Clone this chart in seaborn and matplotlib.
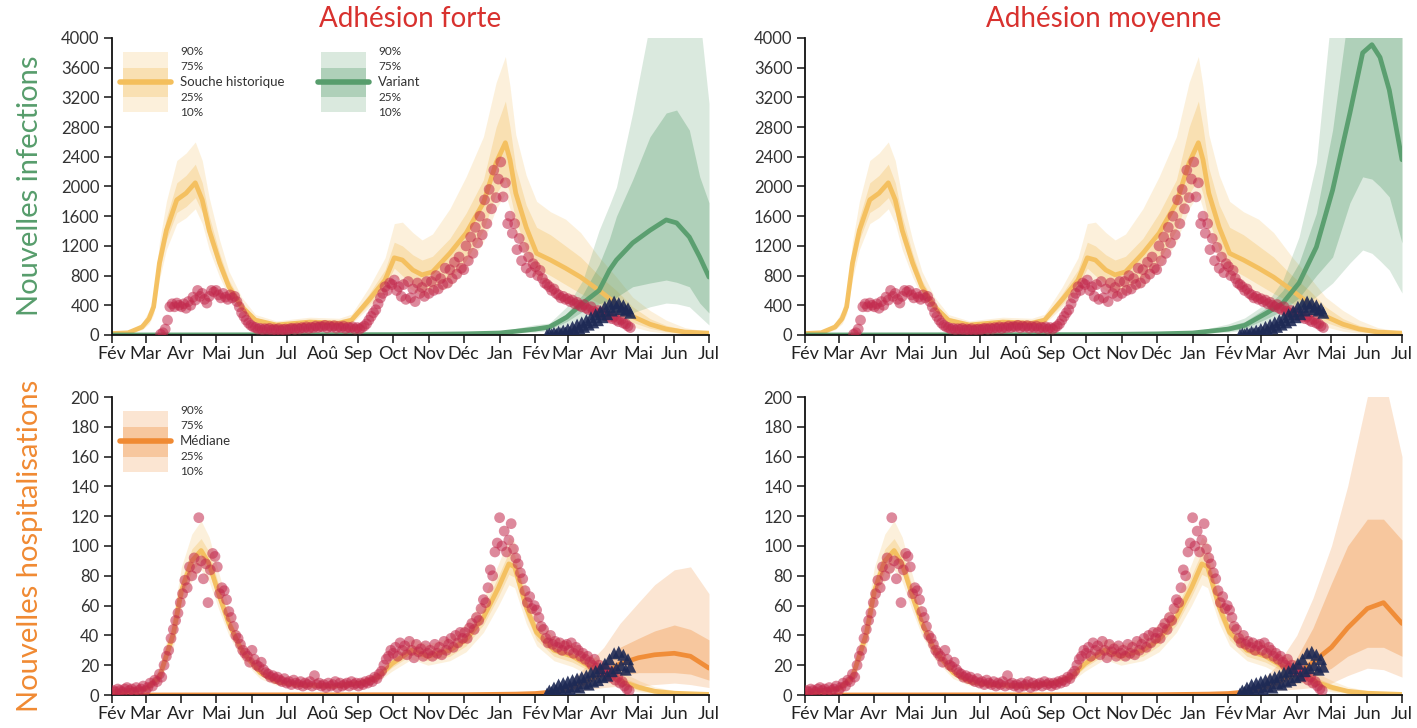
import numpy as np
import pandas as pd
import matplotlib
matplotlib.use('Agg')
import matplotlib.pyplot as plt
import seaborn as sns
from matplotlib.patches import Rectangle
from matplotlib.lines import Line2D

sns.set_style('ticks')
plt.rcParams['font.family'] = ['Lato', 'DejaVu Sans']

# ---------------- DATA ----------------
month_labels = ['Fév', 'Mar', 'Avr', 'Mai', 'Jun', 'Jul', 'Aoû', 'Sep', 'Oct', 'Nov', 'Déc',
                'Jan', 'Fév', 'Mar', 'Avr', 'Mai', 'Jun', 'Jul']
titles = ['Adhésion forte', 'Adhésion moyenne']

# Historical strain - infections (shared by both scenarios)
hist_inf_dates = ['2020-02-01', '2020-02-15', '2020-02-27', '2020-03-04', '2020-03-08', '2020-03-13',
                  '2020-03-19', '2020-03-28', '2020-04-05', '2020-04-13', '2020-04-19', '2020-04-25',
                  '2020-05-04', '2020-05-12', '2020-05-23', '2020-06-04', '2020-06-22', '2020-07-21',
                  '2020-08-15', '2020-08-26', '2020-09-10', '2020-09-24', '2020-10-02', '2020-10-09',
                  '2020-10-18', '2020-10-26', '2020-11-04', '2020-11-19', '2020-12-03', '2020-12-18',
                  '2020-12-29', '2021-01-06', '2021-01-10', '2021-01-15', '2021-01-24', '2021-02-02',
                  '2021-02-14', '2021-02-27', '2021-03-12', '2021-03-28', '2021-04-12', '2021-04-26',
                  '2021-05-11', '2021-05-25', '2021-06-10', '2021-07-01']
hist_inf_q10 = [10, 15, 70, 150, 280, 750, 1150, 1500, 1580, 1700, 1500, 1150, 780, 520, 300, 150, 100, 130,
                115, 150, 370, 580, 800, 700, 600, 520, 560, 650, 880, 1250, 1700, 1900, 1700, 1350, 1000, 780,
                680, 560, 450, 330, 200, 110, 50, 25, 10, 5]
hist_inf_q25 = [15, 22, 85, 180, 320, 850, 1280, 1650, 1730, 1850, 1650, 1280, 870, 580, 340, 175, 115, 150,
                135, 170, 410, 650, 900, 800, 690, 600, 640, 760, 1000, 1410, 1900, 2100, 1900, 1550, 1150, 900,
                800, 680, 560, 430, 280, 170, 90, 45, 20, 10]
hist_inf_med = [20, 30, 108, 220, 380, 970, 1410, 1820, 1910, 2050, 1820, 1410, 970, 650, 380, 200, 135, 175,
                160, 200, 470, 740, 1040, 1010, 875, 810, 850, 1100, 1370, 1780, 2320, 2590, 2360, 1910, 1450, 1100,
                1010, 900, 780, 600, 420, 250, 145, 80, 40, 25]
hist_inf_q75 = [28, 40, 130, 270, 450, 1100, 1580, 2050, 2150, 2300, 2050, 1600, 1100, 740, 440, 235, 160, 205,
                190, 240, 550, 880, 1250, 1200, 1080, 1010, 1060, 1300, 1640, 2090, 2800, 3150, 2800, 2250, 1750, 1450,
                1350, 1200, 1050, 800, 600, 380, 220, 130, 70, 35]
hist_inf_q90 = [35, 50, 160, 330, 540, 1250, 1800, 2350, 2450, 2600, 2350, 1850, 1280, 860, 510, 275, 190, 240,
                225, 280, 640, 1040, 1500, 1520, 1380, 1280, 1360, 1700, 2130, 2670, 3400, 3750, 3350, 2700, 2150, 1800,
                1660, 1560, 1380, 1050, 780, 510, 330, 200, 100, 45]

# Variant - infections
var_inf_dates_forte = ['2020-02-01', '2020-10-01', '2020-12-01', '2021-01-01', '2021-01-15', '2021-02-01',
                       '2021-02-13', '2021-02-28', '2021-03-14', '2021-03-28', '2021-04-06', '2021-04-12',
                       '2021-04-26', '2021-05-11', '2021-05-25', '2021-06-03', '2021-06-14', '2021-06-23',
                       '2021-07-01']
var_inf_q10_forte = [0, 3, 8, 15, 25, 40, 60, 130, 220, 260, 230, 200, 300, 380, 430, 420, 380, 250, 135]
var_inf_q25_forte = [0, 4, 10, 20, 35, 55, 80, 180, 320, 420, 470, 510, 650, 700, 740, 710, 650, 430, 296]
var_inf_med_forte = [0, 5, 15, 27, 50, 80, 108, 240, 430, 600, 875, 1010, 1240, 1410, 1550, 1510, 1320, 1050, 780]
var_inf_q75_forte = [0, 6, 20, 35, 70, 105, 130, 290, 550, 950, 1300, 1600, 2090, 2670, 2990, 3030, 2760, 2130, 1780]
var_inf_q90_forte = [0, 8, 25, 45, 90, 140, 160, 380, 740, 1410, 1750, 1990, 2990, 4200, 4500, 4500, 4500, 4300, 3120]

var_inf_dates_moy = ['2020-02-01', '2020-10-01', '2020-12-01', '2021-01-01', '2021-01-15', '2021-02-01',
                     '2021-02-15', '2021-03-06', '2021-03-20', '2021-04-03', '2021-04-18', '2021-05-02',
                     '2021-05-17', '2021-05-28', '2021-06-05', '2021-06-12', '2021-06-20', '2021-07-01']
var_inf_q10_moy = [0, 3, 8, 15, 25, 40, 65, 170, 250, 350, 520, 700, 970, 1145, 1100, 1000, 875, 565]
var_inf_q25_moy = [0, 4, 10, 20, 35, 55, 90, 220, 330, 500, 800, 1050, 1780, 2130, 2100, 2000, 1860, 1240]
var_inf_med_moy = [0, 5, 15, 27, 50, 80, 130, 296, 430, 700, 1185, 1950, 2990, 3800, 3910, 3740, 3300, 2360]
var_inf_q75_moy = [0, 6, 20, 35, 70, 120, 180, 370, 600, 970, 1640, 2760, 4500, 4500, 4500, 4500, 4500, 4500]
var_inf_q90_moy = [0, 8, 25, 45, 90, 150, 230, 430, 740, 1320, 2320, 4500, 4500, 4500, 4500, 4500, 4500, 4500]

# Historical strain - hospitalisations (shared)
hist_hosp_dates = ['2020-02-01', '2020-03-01', '2020-03-13', '2020-03-25', '2020-04-01', '2020-04-10',
                   '2020-04-18', '2020-04-25', '2020-05-04', '2020-05-12', '2020-05-23', '2020-06-08',
                   '2020-06-22', '2020-07-10', '2020-08-10', '2020-09-04', '2020-09-18', '2020-09-30',
                   '2020-10-17', '2020-10-31', '2020-11-19', '2020-12-03', '2020-12-18', '2020-12-31',
                   '2021-01-09', '2021-01-14', '2021-01-24', '2021-02-02', '2021-02-17', '2021-03-05',
                   '2021-03-20', '2021-04-03', '2021-04-20', '2021-05-02', '2021-05-15', '2021-06-01',
                   '2021-07-01']
hist_hosp_q10 = [1, 2.5, 8, 32, 58, 77, 84, 76, 56, 40, 24, 11, 6.5, 5, 4.5, 6, 9, 16, 24, 20, 23, 29, 42, 60,
                 74, 72, 48, 33, 23, 19, 13, 9, 4, 2, 1, 0.4, 0.1]
hist_hosp_q25 = [1.5, 3, 10, 36, 64, 83, 90, 82, 61, 44, 27, 13, 7.5, 6, 5.2, 7, 10.5, 18.5, 27, 23, 26, 33, 47,
                 66, 81, 79, 53, 37, 26, 22, 16, 12, 6, 3, 1.5, 0.8, 0.2]
hist_hosp_med = [2, 4, 12, 41, 70, 90, 97, 88, 66, 48, 30, 15, 9, 7, 6, 8, 12, 21, 30, 26, 30, 37, 52, 72, 88,
                 86, 59, 42, 30, 26, 19, 15, 8, 5, 2.5, 1.2, 0.4]
hist_hosp_q75 = [2.5, 5, 15, 47, 77, 98, 105, 96, 72, 53, 33, 17, 10.5, 8, 7, 9.5, 14, 24, 34, 30, 34, 42, 58,
                 80, 96, 94, 66, 47, 34, 30, 23, 18, 11, 7, 4, 2, 0.7]
hist_hosp_q90 = [3, 6, 18, 54, 86, 108, 117, 106, 80, 59, 37, 20, 12, 9.5, 8, 11, 16, 27, 38, 34, 39, 48, 65,
                 88, 106, 103, 73, 53, 39, 35, 27, 22, 14, 9.5, 5.5, 3, 1]

# Variant - hospitalisations
var_hosp_dates = ['2020-02-01', '2020-12-01', '2021-01-15', '2021-02-01', '2021-02-15', '2021-03-01',
                  '2021-03-15', '2021-04-01', '2021-04-15', '2021-05-01', '2021-05-15', '2021-06-01',
                  '2021-06-15', '2021-07-01']
var_hosp_q10_forte = [0, 0.05, 0.2, 0.4, 0.8, 1.5, 3, 5, 6, 6, 7, 8, 7, 5]
var_hosp_q25_forte = [0, 0.1, 0.4, 0.7, 1.3, 2.5, 5, 9, 13, 15, 15, 15, 14, 10]
var_hosp_med_forte = [0, 0.2, 0.6, 1, 2, 4, 8, 14, 21, 25, 27, 28, 26, 18]
var_hosp_q75_forte = [0, 0.3, 0.8, 1.4, 3, 6, 12, 22, 32, 38, 43, 47, 44, 37]
var_hosp_q90_forte = [0, 0.4, 1, 2, 4, 8, 18, 32, 48, 62, 74, 84, 86, 68]

var_hosp_q10_moy = [0, 0.05, 0.2, 0.4, 0.8, 1.5, 3, 4, 5, 8, 13, 18, 17, 12]
var_hosp_q25_moy = [0, 0.1, 0.4, 0.7, 1.3, 2.5, 5, 8, 12, 18, 26, 32, 32, 26]
var_hosp_med_moy = [0, 0.2, 0.6, 1, 2, 4, 8, 14, 22, 32, 45, 58, 62, 48]
var_hosp_q75_moy = [0, 0.3, 0.8, 1.4, 3, 6, 13, 25, 45, 75, 100, 118, 118, 104]
var_hosp_q90_moy = [0, 0.4, 1, 2, 4, 9, 20, 40, 65, 100, 140, 200, 215, 160]

# Observed new infections (every 2 days)
obs_inf_start = '2020-03-14'
obs_inf = [10, 30, 80, 200, 380, 420, 380, 430, 400,
           380, 420, 360, 450, 400, 510, 470, 600, 520, 560, 480, 430, 520, 600, 580,
           600, 540, 500, 560, 510, 480, 540, 500, 520, 450, 380, 300, 250, 200, 160, 130,
           110, 100, 80, 90, 70, 85, 75, 90, 65, 80, 70, 85, 60, 75, 80,
           70, 85, 90, 75, 95, 80, 100, 90, 110, 85, 105, 95, 120, 100, 115,
           110, 130, 95, 120, 105, 125, 90, 115, 100, 120, 85, 105, 95, 110, 80, 100,
           80, 100, 120, 150, 200, 250, 300, 340, 420, 500, 560, 650, 600, 700, 680,
           740, 600, 650, 520, 680, 480, 720, 500, 620, 450, 700, 560, 640, 520, 720,
           560, 720, 600, 800, 620, 760, 680, 900, 700, 880, 760, 980, 820, 1050, 900,
           880, 1200, 1000, 1320, 1100, 1450, 1240, 1600, 1350, 1820, 1500, 1960, 1700, 2220, 1850, 2100,
           2330, 1860, 2050, 1500, 1600, 1370, 1500, 1150, 1300, 1000, 1180, 900, 1050, 840, 960,
           920, 800, 870, 760, 700, 680, 650, 600, 620, 560, 540, 500, 520, 480,
           490, 450, 470, 420, 440, 400, 380, 410, 360, 340, 380, 320, 300, 330, 290, 300,
           260, 280, 240, 220, 250, 200, 180, 210, 160, 150, 120, 100]
# Observed variant infections (every 2 days)
obs_var_start = '2021-02-11'
obs_var_inf = [5, 20, 10, 30, 15, 45, 25, 60, 35,
               80, 40, 110, 60, 140, 90, 170, 110, 200, 140, 240, 170, 280, 200, 320, 240,
               380, 280, 420, 330, 450, 380, 430, 350, 400, 330, 360, 300]
# Observed hospitalisations (every 2 days)
obs_hosp_start = '2020-02-02'
obs_hosp = [3, 2, 4, 3, 2, 4, 5, 3, 4, 2, 5, 3, 4, 6,
            3, 5, 8, 6, 10, 9, 14, 12, 20, 26, 30, 38, 44, 50, 55, 62,
            68, 77, 72, 86, 80, 92, 85, 119, 90, 78, 88, 62, 84, 95, 93,
            86, 68, 72, 70, 64, 56, 52, 46, 40, 38, 34, 30, 28, 26, 22,
            30, 24, 20, 19, 22, 17, 15, 14, 12, 13, 11, 12, 10, 9, 11,
            8, 9, 7, 10, 8, 7, 9, 6, 8, 7, 9, 6, 13, 7, 8, 6,
            7, 5, 8, 6, 7, 9, 5, 8, 6, 7, 8, 6, 9, 7, 8,
            6, 8, 7, 9, 8, 10, 9, 12, 11, 14, 16, 20, 24, 26, 30,
            28, 32, 26, 35, 30, 33, 27, 36, 30, 25, 34, 29, 31, 26, 33, 28,
            30, 26, 34, 28, 32, 27, 36, 30, 34, 38, 32, 40, 35, 42, 38,
            42, 38, 45, 48, 44, 52, 50, 58, 64, 62, 72, 84, 80, 96, 102,
            119, 100, 110, 96, 104, 115, 98, 92, 88, 82, 78, 70, 62, 66, 58, 60,
            57, 52, 46, 44, 38, 35, 40, 34, 36, 32, 35, 30, 33, 34,
            30, 35, 28, 32, 30, 26, 28, 24, 26, 22, 20, 24, 18, 20, 16,
            16, 18, 14, 12, 15, 10, 12, 8, 9, 6, 4, 3]
# Observed variant hospitalisations (every 2 days)
obs_var_hosp = [1, 3, 2, 5, 3, 7, 4, 8, 5,
                9, 4, 10, 6, 11, 5, 12, 8, 13, 7, 15, 9, 16, 10, 18, 12,
                21, 13, 24, 16, 28, 18, 29, 20, 27, 17, 24, 19]

# ---------------- STYLE ----------------
YEL = '#f4bf5c'
GRN = '#579d6c'
ORA = '#f08a33'
RED = '#c2294c'
NAVY = '#1e2a55'

fig = plt.figure(figsize=(14.17, 7.28), dpi=100)
axw = 597 / 1417
axes = {}
for i, x0 in enumerate([112 / 1417, 805 / 1417]):
    axes[(0, i)] = fig.add_axes([x0, 1 - 335 / 728, axw, 297 / 728])
    axes[(1, i)] = fig.add_axes([x0, 1 - 695 / 728, axw, 298 / 728])

month_ticks = pd.date_range('2020-02-01', '2021-07-01', freq='MS')


def bands(ax, dates, q10, q25, med, q75, q90, color):
    d = pd.to_datetime(dates)
    ax.fill_between(d, q10, q90, color=color, alpha=0.22, lw=0)
    ax.fill_between(d, q25, q75, color=color, alpha=0.32, lw=0)
    sns.lineplot(x=d, y=med, ax=ax, color=color, lw=3.4, alpha=0.95)


def observed(ax, start, vals, step, color, marker, size, alpha):
    d = pd.date_range(start, periods=len(vals), freq=step)
    sns.scatterplot(x=d, y=vals, ax=ax, color=color, marker=marker, s=size,
                    alpha=alpha, edgecolor='none', zorder=5)


def legend(ax, x0, label, color, text_x):
    ax.add_patch(Rectangle((x0, 0.75), 0.076, 0.203, transform=ax.transAxes,
                           color=color, alpha=0.22, lw=0))
    ax.add_patch(Rectangle((x0, 0.80), 0.076, 0.10, transform=ax.transAxes,
                           color=color, alpha=0.32, lw=0))
    ax.add_line(Line2D([x0 - 0.005, x0 + 0.081], [0.852, 0.852], transform=ax.transAxes,
                       color=color, lw=4))
    for y, t in zip([0.955, 0.905, 0.852, 0.80, 0.75], ['90%', '75%', label, '25%', '10%']):
        ax.text(text_x, y, t, transform=ax.transAxes, va='center', ha='left',
                fontsize=9.5 if t == label else 8.5, color='#333333')


var_inf = [
    (var_inf_dates_forte, var_inf_q10_forte, var_inf_q25_forte, var_inf_med_forte, var_inf_q75_forte, var_inf_q90_forte),
    (var_inf_dates_moy, var_inf_q10_moy, var_inf_q25_moy, var_inf_med_moy, var_inf_q75_moy, var_inf_q90_moy),
]
var_hosp = [
    (var_hosp_dates, var_hosp_q10_forte, var_hosp_q25_forte, var_hosp_med_forte, var_hosp_q75_forte, var_hosp_q90_forte),
    (var_hosp_dates, var_hosp_q10_moy, var_hosp_q25_moy, var_hosp_med_moy, var_hosp_q75_moy, var_hosp_q90_moy),
]

for i in range(2):
    ax = axes[(0, i)]
    bands(ax, hist_inf_dates, hist_inf_q10, hist_inf_q25, hist_inf_med, hist_inf_q75, hist_inf_q90, YEL)
    bands(ax, *var_inf[i], GRN)
    observed(ax, obs_inf_start, obs_inf, '2D', RED, 'o', 60, 0.55)
    observed(ax, obs_var_start, obs_var_inf, '2D', NAVY, '^', 75, 0.9)
    ax.set_ylim(0, 4000)
    ax.set_yticks(np.arange(0, 4001, 400))
    ax.set_title(titles[i], color='#d8312e', fontsize=20, pad=8)

    ax = axes[(1, i)]
    bands(ax, hist_hosp_dates, hist_hosp_q10, hist_hosp_q25, hist_hosp_med, hist_hosp_q75, hist_hosp_q90, YEL)
    bands(ax, *var_hosp[i], ORA)
    observed(ax, obs_hosp_start, obs_hosp, '2D', RED, 'o', 60, 0.55)
    observed(ax, obs_var_start, obs_var_hosp, '2D', NAVY, '^', 75, 0.9)
    ax.set_ylim(0, 200)
    ax.set_yticks(np.arange(0, 201, 20))

for ax in axes.values():
    ax.set_xlim(pd.Timestamp('2020-02-01'), pd.Timestamp('2021-07-01'))
    ax.set_xticks(month_ticks)
    ax.set_xticklabels(month_labels, fontsize=13, color='#222222')
    ax.tick_params(axis='y', labelsize=12, labelcolor='#333333', length=6, width=1.2, pad=3)
    ax.tick_params(axis='x', length=6, width=1.2, pad=2)
    ax.set_xlabel('')
    ax.set_ylabel('')
    sns.despine(ax=ax)
    for s in ['left', 'bottom']:
        ax.spines[s].set_linewidth(1.3)
        ax.spines[s].set_color('#111111')

legend(axes[(0, 0)], 0.018, 'Souche historique', YEL, 0.114)
legend(axes[(0, 0)], 0.350, 'Variant', GRN, 0.446)
legend(axes[(1, 0)], 0.018, 'Médiane', ORA, 0.114)

fig.text(30 / 1417, 1 - 186 / 728, 'Nouvelles infections', rotation=90, ha='center', va='center',
         fontsize=21, color=GRN)
fig.text(30 / 1417, 1 - 546 / 728, 'Nouvelles hospitalisations', rotation=90, ha='center', va='center',
         fontsize=21, color=ORA)

fig.savefig('out.png', dpi=100)
